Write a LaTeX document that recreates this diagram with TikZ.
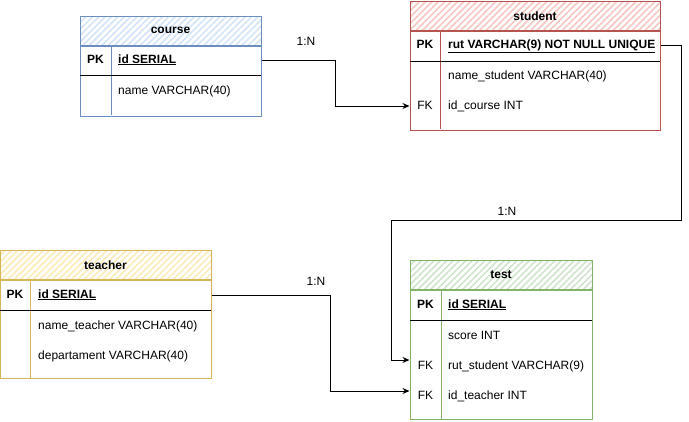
\documentclass[tikz,border=0pt]{standalone}
\usepackage{fontspec}
\setmainfont{Liberation Sans}
\usetikzlibrary{arrows.meta,patterns.meta,positioning}

\definecolor{courseline}{HTML}{6C8EBF}
\definecolor{coursefill}{HTML}{D2E3FA}
\definecolor{studentline}{HTML}{B85450}
\definecolor{studentfill}{HTML}{F6C6C3}
\definecolor{teacherline}{HTML}{D6B656}
\definecolor{teacherfill}{HTML}{FCEBB8}
\definecolor{testline}{HTML}{82B366}
\definecolor{testfill}{HTML}{CFE3CD}

\begin{document}
\begin{tikzpicture}[x=1pt, y=-1pt,
        font=\fontsize{12}{14}\selectfont,
        hdr/.style={draw, line width=1pt, minimum height=29, inner sep=0pt,
                    font=\fontsize{12}{14}\selectfont\bfseries,
                    pattern={Lines[angle=45, distance=4.5pt, line width=1.6pt]}},
        tbody/.style={draw, line width=1pt, inner sep=0pt},
        key/.style={font=\fontsize{12}{14}\selectfont\bfseries, inner sep=0pt,
                    text height=9pt, text depth=3pt},
        fkey/.style={inner sep=0pt, text height=9pt, text depth=3pt},
        fld/.style={anchor=west, inner sep=0pt, text height=9pt, text depth=3pt},
        pkfld/.style={fld, font=\fontsize{12}{14}\selectfont\bfseries},
        sep/.style={line width=0.8pt},
        rel/.style={line width=1pt, -{Stealth[open, length=7pt, width=6pt]}},
        card/.style={inner sep=1pt}]
    \useasboundingbox (0,0) rectangle (689,421);

    % course
    \node [hdr, pattern color=coursefill, draw=courseline, minimum width=181] (course) at (170.5,30.5) {course};
    \node [tbody, draw=courseline, minimum width=181, minimum height=70, below=0pt of course] (course-b) {};
    \draw [courseline, line width=1pt] (111,45) -- (111,115);
    \draw [sep] (80,75) -- (261,75);
    \node [key] (course-k1) at (95.5,60) {PK};
    \node [pkfld] (course-pk) at (118,60) {\underline{id SERIAL}};
    \node [fld] (course-f2) at (118,91) {name VARCHAR(40)};

    % student
    \node [hdr, pattern color=studentfill, draw=studentline, minimum width=250] (student) at (535,16) {student};
    \node [tbody, draw=studentline, minimum width=250, minimum height=99, below=0pt of student] (student-b) {};
    \draw [studentline, line width=1pt] (440,30) -- (440,129);
    \draw [sep] (410,61) -- (660,61);
    \node [key] (student-k1) at (425,45) {PK};
    \node [pkfld] (student-pk) at (448,45) {\underline{rut VARCHAR(9) NOT NULL UNIQUE}};
    \node [fld] (student-f2) at (448,76) {name\_student VARCHAR(40)};
    \node [fkey] (student-k3) at (425,106) {FK};
    \node [fld] (student-fk) at (448,106) {id\_course INT};

    % teacher
    \node [hdr, pattern color=teacherfill, draw=teacherline, minimum width=211] (teacher) at (105.5,265) {teacher};
    \node [tbody, draw=teacherline, minimum width=211, minimum height=98, below=0pt of teacher] (teacher-b) {};
    \draw [teacherline, line width=1pt] (30,280) -- (30,378);
    \draw [sep] (0,310) -- (211,310);
    \node [key] (teacher-k1) at (15,295) {PK};
    \node [pkfld] (teacher-pk) at (38,295) {\underline{id SERIAL}};
    \node [fld] (teacher-f2) at (38,326) {name\_teacher VARCHAR(40)};
    \node [fld] (teacher-f3) at (38,356) {departament VARCHAR(40)};

    % test
    \node [hdr, pattern color=testfill, draw=testline, minimum width=182] (test) at (501,275) {test};
    \node [tbody, draw=testline, minimum width=182, minimum height=129, below=0pt of test] (test-b) {};
    \draw [testline, line width=1pt] (441,290) -- (441,419);
    \draw [sep] (410,320) -- (592,320);
    \node [key] (test-k1) at (425.5,305) {PK};
    \node [pkfld] (test-pk) at (448,305) {\underline{id SERIAL}};
    \node [fld] (test-f2) at (448,336) {score INT};
    \node [fkey] (test-k3) at (425.5,366) {FK};
    \node [fld] (test-rut) at (448,366) {rut\_student VARCHAR(9)};
    \node [fkey] (test-k4) at (425.5,396) {FK};
    \node [fld] (test-tch) at (448,396) {id\_teacher INT};

    % relations
    \coordinate (s-loop) at (391,220);
    \draw [rel] (course-b.east |- course-pk) -- ++(74,0) |- (student-b.west |- student-fk);
    \draw [rel] (student-b.east |- student-pk) -- ++(21,0) |- (s-loop) |- ([yshift=6pt]test-b.west |- test-rut);
    \draw [rel] (teacher-b.east |- teacher-pk) -- ++(119,0) |- ([yshift=5pt]test-b.west |- test-tch);
    \node [card] (c-course) at (306,41) {1:N};
    \node [card] (c-student) at (507,211) {1:N};
    \node [card] (c-teacher) at (316,281) {1:N};
\end{tikzpicture}
\end{document}
